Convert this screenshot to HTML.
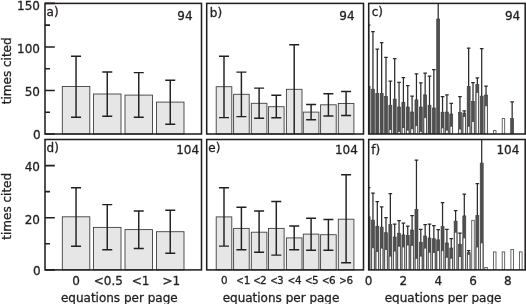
<!DOCTYPE html>
<html lang="en"><head><meta charset="utf-8"><title>equations per page vs times cited</title>
<style>html,body{margin:0;padding:0;background:#fff}svg{display:block;will-change:transform}</style></head>
<body>
<svg width="526" height="304" viewBox="0 0 526 304" font-family='"DejaVu Sans", "Liberation Sans", sans-serif' font-size="12" fill="#231f20">
<style>text{stroke:#231f20;stroke-width:0.3px}</style>
<rect width="526" height="304" fill="#fff"/>
<rect x="62.30" y="86.50" width="27.50" height="47.50" fill="#e6e6e6" stroke="#404040" stroke-width="0.9"/>
<rect x="93.50" y="94.00" width="27.50" height="40.00" fill="#e6e6e6" stroke="#404040" stroke-width="0.9"/>
<rect x="125.00" y="95.10" width="27.50" height="38.90" fill="#e6e6e6" stroke="#404040" stroke-width="0.9"/>
<rect x="156.50" y="102.10" width="27.50" height="31.90" fill="#e6e6e6" stroke="#404040" stroke-width="0.9"/>
<path d="M76.05 56.20V117.20M71.05 56.20h10M71.05 117.20h10" fill="none" stroke="#231f20" stroke-width="1.45"/>
<path d="M107.25 71.90V116.20M102.25 71.90h10M102.25 116.20h10" fill="none" stroke="#231f20" stroke-width="1.45"/>
<path d="M138.75 72.60V117.20M133.75 72.60h10M133.75 117.20h10" fill="none" stroke="#231f20" stroke-width="1.45"/>
<path d="M170.25 80.30V124.20M165.25 80.30h10M165.25 124.20h10" fill="none" stroke="#231f20" stroke-width="1.45"/>
<rect x="62.30" y="216.80" width="27.50" height="53.10" fill="#e6e6e6" stroke="#404040" stroke-width="0.9"/>
<rect x="93.50" y="227.40" width="27.50" height="42.50" fill="#e6e6e6" stroke="#404040" stroke-width="0.9"/>
<rect x="125.00" y="229.60" width="27.50" height="40.30" fill="#e6e6e6" stroke="#404040" stroke-width="0.9"/>
<rect x="156.50" y="231.70" width="27.50" height="38.20" fill="#e6e6e6" stroke="#404040" stroke-width="0.9"/>
<path d="M76.05 187.80V246.20M71.05 187.80h10M71.05 246.20h10" fill="none" stroke="#231f20" stroke-width="1.45"/>
<path d="M107.25 204.60V249.80M102.25 204.60h10M102.25 249.80h10" fill="none" stroke="#231f20" stroke-width="1.45"/>
<path d="M138.75 211.00V248.50M133.75 211.00h10M133.75 248.50h10" fill="none" stroke="#231f20" stroke-width="1.45"/>
<path d="M170.25 210.30V253.30M165.25 210.30h10M165.25 253.30h10" fill="none" stroke="#231f20" stroke-width="1.45"/>
<rect x="216.20" y="86.70" width="15.60" height="47.30" fill="#e6e6e6" stroke="#404040" stroke-width="0.9"/>
<rect x="233.60" y="94.30" width="15.60" height="39.70" fill="#e6e6e6" stroke="#404040" stroke-width="0.9"/>
<rect x="251.30" y="103.30" width="15.60" height="30.70" fill="#e6e6e6" stroke="#404040" stroke-width="0.9"/>
<rect x="268.50" y="106.70" width="15.60" height="27.30" fill="#e6e6e6" stroke="#404040" stroke-width="0.9"/>
<rect x="286.40" y="89.30" width="15.60" height="44.70" fill="#e6e6e6" stroke="#404040" stroke-width="0.9"/>
<rect x="303.30" y="112.10" width="15.60" height="21.90" fill="#e6e6e6" stroke="#404040" stroke-width="0.9"/>
<rect x="320.60" y="104.80" width="15.60" height="29.20" fill="#e6e6e6" stroke="#404040" stroke-width="0.9"/>
<rect x="338.30" y="103.50" width="15.60" height="30.50" fill="#e6e6e6" stroke="#404040" stroke-width="0.9"/>
<path d="M224.00 56.20V117.60M219.00 56.20h10M219.00 117.60h10" fill="none" stroke="#231f20" stroke-width="1.45"/>
<path d="M241.40 72.10V116.60M236.40 72.10h10M236.40 116.60h10" fill="none" stroke="#231f20" stroke-width="1.45"/>
<path d="M259.10 88.10V118.20M254.10 88.10h10M254.10 118.20h10" fill="none" stroke="#231f20" stroke-width="1.45"/>
<path d="M276.30 95.30V117.80M271.30 95.30h10M271.30 117.80h10" fill="none" stroke="#231f20" stroke-width="1.45"/>
<path d="M294.20 44.80V134.00M289.20 44.80h10" fill="none" stroke="#231f20" stroke-width="1.45"/>
<path d="M311.10 104.40V119.70M306.10 104.40h10M306.10 119.70h10" fill="none" stroke="#231f20" stroke-width="1.45"/>
<path d="M328.40 93.70V115.90M323.40 93.70h10M323.40 115.90h10" fill="none" stroke="#231f20" stroke-width="1.45"/>
<path d="M346.10 91.50V115.50M341.10 91.50h10M341.10 115.50h10" fill="none" stroke="#231f20" stroke-width="1.45"/>
<rect x="216.20" y="216.90" width="15.60" height="53.00" fill="#e6e6e6" stroke="#404040" stroke-width="0.9"/>
<rect x="233.60" y="228.40" width="15.60" height="41.50" fill="#e6e6e6" stroke="#404040" stroke-width="0.9"/>
<rect x="251.30" y="232.20" width="15.60" height="37.70" fill="#e6e6e6" stroke="#404040" stroke-width="0.9"/>
<rect x="268.50" y="228.40" width="15.60" height="41.50" fill="#e6e6e6" stroke="#404040" stroke-width="0.9"/>
<rect x="286.40" y="237.90" width="15.60" height="32.00" fill="#e6e6e6" stroke="#404040" stroke-width="0.9"/>
<rect x="303.30" y="234.10" width="15.60" height="35.80" fill="#e6e6e6" stroke="#404040" stroke-width="0.9"/>
<rect x="320.60" y="234.70" width="15.60" height="35.20" fill="#e6e6e6" stroke="#404040" stroke-width="0.9"/>
<rect x="338.30" y="219.20" width="15.60" height="50.70" fill="#e6e6e6" stroke="#404040" stroke-width="0.9"/>
<path d="M224.00 187.70V246.10M219.00 187.70h10M219.00 246.10h10" fill="none" stroke="#231f20" stroke-width="1.45"/>
<path d="M241.40 207.20V249.70M236.40 207.20h10M236.40 249.70h10" fill="none" stroke="#231f20" stroke-width="1.45"/>
<path d="M259.10 211.00V252.20M254.10 211.00h10M254.10 252.20h10" fill="none" stroke="#231f20" stroke-width="1.45"/>
<path d="M276.30 201.50V255.10M271.30 201.50h10M271.30 255.10h10" fill="none" stroke="#231f20" stroke-width="1.45"/>
<path d="M294.20 225.90V249.70M289.20 225.90h10M289.20 249.70h10" fill="none" stroke="#231f20" stroke-width="1.45"/>
<path d="M311.10 218.20V250.30M306.10 218.20h10M306.10 250.30h10" fill="none" stroke="#231f20" stroke-width="1.45"/>
<path d="M328.40 219.40V250.30M323.40 219.40h10M323.40 250.30h10" fill="none" stroke="#231f20" stroke-width="1.45"/>
<path d="M346.10 174.70V262.70M341.10 174.70h10M341.10 262.70h10" fill="none" stroke="#231f20" stroke-width="1.45"/>
<clipPath id="cc"><rect x="368.7" y="3.4" width="156.50" height="130.60"/></clipPath>
<g clip-path="url(#cc)">
<rect x="367.10" y="86.50" width="3.0" height="47.50" fill="#515050" stroke="#383838" stroke-width="0.6"/>
<path d="M368.60 86.50V25.00M366.80 25.20h3.6" fill="none" stroke="#2d2a2b" stroke-width="1.25"/>
<rect x="371.45" y="89.20" width="3.0" height="44.80" fill="#515050" stroke="#383838" stroke-width="0.6"/>
<path d="M372.95 89.20V31.40M371.15 31.60h3.6" fill="none" stroke="#2d2a2b" stroke-width="1.25"/>
<rect x="375.80" y="93.30" width="3.0" height="40.70" fill="#515050" stroke="#383838" stroke-width="0.6"/>
<path d="M377.30 93.30V48.90M375.50 49.10h3.6" fill="none" stroke="#2d2a2b" stroke-width="1.25"/>
<rect x="380.15" y="93.30" width="3.0" height="40.70" fill="#515050" stroke="#383838" stroke-width="0.6"/>
<path d="M381.65 93.30V42.40M379.85 42.60h3.6" fill="none" stroke="#2d2a2b" stroke-width="1.25"/>
<rect x="384.50" y="96.40" width="3.0" height="37.60" fill="#515050" stroke="#383838" stroke-width="0.6"/>
<path d="M386.00 96.40V57.20M384.20 57.40h3.6" fill="none" stroke="#2d2a2b" stroke-width="1.25"/>
<rect x="388.85" y="105.20" width="3.0" height="28.80" fill="#515050" stroke="#383838" stroke-width="0.6"/>
<path d="M390.35 105.20V80.90M388.55 81.10h3.6" fill="none" stroke="#2d2a2b" stroke-width="1.25"/>
<rect x="393.20" y="99.10" width="3.0" height="34.90" fill="#515050" stroke="#383838" stroke-width="0.6"/>
<path d="M394.70 99.10V58.40M392.90 58.60h3.6" fill="none" stroke="#2d2a2b" stroke-width="1.25"/>
<rect x="397.55" y="107.00" width="3.0" height="27.00" fill="#515050" stroke="#383838" stroke-width="0.6"/>
<path d="M399.05 107.00V82.20M397.25 82.40h3.6" fill="none" stroke="#2d2a2b" stroke-width="1.25"/>
<rect x="401.90" y="102.20" width="3.0" height="31.80" fill="#515050" stroke="#383838" stroke-width="0.6"/>
<path d="M403.40 102.20V77.40M401.60 77.60h3.6" fill="none" stroke="#2d2a2b" stroke-width="1.25"/>
<rect x="406.25" y="107.00" width="3.0" height="27.00" fill="#515050" stroke="#383838" stroke-width="0.6"/>
<path d="M407.75 107.00V85.30M405.95 85.50h3.6" fill="none" stroke="#2d2a2b" stroke-width="1.25"/>
<rect x="410.60" y="112.00" width="3.0" height="22.00" fill="#515050" stroke="#383838" stroke-width="0.6"/>
<path d="M412.10 112.00V96.00M410.30 96.20h3.6" fill="none" stroke="#2d2a2b" stroke-width="1.25"/>
<rect x="414.95" y="99.90" width="3.0" height="34.10" fill="#515050" stroke="#383838" stroke-width="0.6"/>
<path d="M416.45 99.90V73.60M414.65 73.80h3.6" fill="none" stroke="#2d2a2b" stroke-width="1.25"/>
<rect x="419.30" y="107.00" width="3.0" height="27.00" fill="#515050" stroke="#383838" stroke-width="0.6"/>
<path d="M420.80 107.00V82.70M419.00 82.90h3.6" fill="none" stroke="#2d2a2b" stroke-width="1.25"/>
<rect x="423.65" y="94.90" width="3.0" height="39.10" fill="#515050" stroke="#383838" stroke-width="0.6"/>
<path d="M425.15 94.90V72.80M423.35 73.00h3.6" fill="none" stroke="#2d2a2b" stroke-width="1.25"/>
<rect x="428.00" y="105.20" width="3.0" height="28.80" fill="#515050" stroke="#383838" stroke-width="0.6"/>
<path d="M429.50 105.20V75.90M427.70 76.10h3.6" fill="none" stroke="#2d2a2b" stroke-width="1.25"/>
<rect x="432.35" y="108.00" width="3.0" height="26.00" fill="#515050" stroke="#383838" stroke-width="0.6"/>
<path d="M433.85 108.00V69.30M432.05 69.50h3.6" fill="none" stroke="#2d2a2b" stroke-width="1.25"/>
<rect x="436.70" y="19.00" width="3.0" height="115.00" fill="#515050" stroke="#383838" stroke-width="0.6"/>
<path d="M438.20 19.00V0.00M436.40 0.20h3.6" fill="none" stroke="#2d2a2b" stroke-width="1.25"/>
<rect x="441.05" y="112.20" width="3.0" height="21.80" fill="#515050" stroke="#383838" stroke-width="0.6"/>
<path d="M442.55 112.20V96.30M440.75 96.50h3.6" fill="none" stroke="#2d2a2b" stroke-width="1.25"/>
<rect x="445.40" y="112.00" width="3.0" height="22.00" fill="#515050" stroke="#383838" stroke-width="0.6"/>
<path d="M446.90 112.00V94.70M445.10 94.90h3.6" fill="none" stroke="#2d2a2b" stroke-width="1.25"/>
<rect x="449.75" y="114.00" width="3.0" height="20.00" fill="#515050" stroke="#383838" stroke-width="0.6"/>
<path d="M451.25 114.00V103.20M449.45 103.40h3.6" fill="none" stroke="#2d2a2b" stroke-width="1.25"/>
<rect x="458.45" y="112.40" width="3.0" height="21.60" fill="#515050" stroke="#383838" stroke-width="0.6"/>
<path d="M459.95 112.40V96.30M458.15 96.50h3.6" fill="none" stroke="#2d2a2b" stroke-width="1.25"/>
<rect x="462.80" y="113.00" width="3.0" height="21.00" fill="#515050" stroke="#383838" stroke-width="0.6"/>
<path d="M464.30 113.00V110.60M462.50 110.80h3.6" fill="none" stroke="#2d2a2b" stroke-width="1.25"/>
<rect x="467.15" y="86.40" width="3.0" height="47.60" fill="#515050" stroke="#383838" stroke-width="0.6"/>
<path d="M468.65 86.40V47.80M466.85 48.00h3.6" fill="none" stroke="#2d2a2b" stroke-width="1.25"/>
<rect x="471.50" y="101.40" width="3.0" height="32.60" fill="#515050" stroke="#383838" stroke-width="0.6"/>
<path d="M473.00 101.40V82.30M471.20 82.50h3.6" fill="none" stroke="#2d2a2b" stroke-width="1.25"/>
<rect x="475.85" y="84.50" width="3.0" height="49.50" fill="#515050" stroke="#383838" stroke-width="0.6"/>
<path d="M477.35 84.50V77.60M475.55 77.80h3.6" fill="none" stroke="#2d2a2b" stroke-width="1.25"/>
<rect x="480.20" y="96.10" width="3.0" height="37.90" fill="#515050" stroke="#383838" stroke-width="0.6"/>
<path d="M481.70 96.10V48.40M479.90 48.60h3.6" fill="none" stroke="#2d2a2b" stroke-width="1.25"/>
<rect x="484.55" y="95.00" width="3.0" height="39.00" fill="#515050" stroke="#383838" stroke-width="0.6"/>
<path d="M486.05 95.00V86.00M484.25 86.20h3.6" fill="none" stroke="#2d2a2b" stroke-width="1.25"/>
<rect x="510.65" y="118.60" width="3.0" height="15.40" fill="#515050" stroke="#383838" stroke-width="0.6"/>
<path d="M512.15 118.60V101.60M510.35 101.80h3.6" fill="none" stroke="#2d2a2b" stroke-width="1.25"/>
<rect x="389.10" y="129.60" width="2.5" height="4.40" fill="#fff" stroke="#454545" stroke-width="0.8"/>
<rect x="397.80" y="131.50" width="2.5" height="2.50" fill="#fff" stroke="#454545" stroke-width="0.8"/>
<rect x="402.15" y="127.50" width="2.5" height="6.50" fill="#fff" stroke="#454545" stroke-width="0.8"/>
<rect x="406.50" y="130.10" width="2.5" height="3.90" fill="#fff" stroke="#454545" stroke-width="0.8"/>
<rect x="410.85" y="128.80" width="2.5" height="5.20" fill="#fff" stroke="#454545" stroke-width="0.8"/>
<rect x="415.20" y="125.70" width="2.5" height="8.30" fill="#fff" stroke="#454545" stroke-width="0.8"/>
<rect x="419.55" y="131.30" width="2.5" height="2.70" fill="#fff" stroke="#454545" stroke-width="0.8"/>
<rect x="423.90" y="117.70" width="2.5" height="16.30" fill="#fff" stroke="#454545" stroke-width="0.8"/>
<rect x="441.30" y="127.90" width="2.5" height="6.10" fill="#fff" stroke="#454545" stroke-width="0.8"/>
<rect x="445.65" y="130.10" width="2.5" height="3.90" fill="#fff" stroke="#454545" stroke-width="0.8"/>
<rect x="450.00" y="126.20" width="2.5" height="7.80" fill="#fff" stroke="#454545" stroke-width="0.8"/>
<rect x="458.70" y="129.00" width="2.5" height="5.00" fill="#fff" stroke="#454545" stroke-width="0.8"/>
<rect x="463.05" y="116.50" width="2.5" height="17.50" fill="#fff" stroke="#454545" stroke-width="0.8"/>
<rect x="467.40" y="126.20" width="2.5" height="7.80" fill="#fff" stroke="#454545" stroke-width="0.8"/>
<rect x="471.75" y="121.60" width="2.5" height="12.40" fill="#fff" stroke="#454545" stroke-width="0.8"/>
<rect x="476.10" y="92.50" width="2.5" height="41.50" fill="#fff" stroke="#454545" stroke-width="0.8"/>
<rect x="484.80" y="105.80" width="2.5" height="28.20" fill="#fff" stroke="#454545" stroke-width="0.8"/>
<rect x="493.50" y="130.60" width="2.5" height="3.40" fill="#fff" stroke="#454545" stroke-width="0.8"/>
<rect x="502.20" y="118.60" width="2.5" height="15.40" fill="#fff" stroke="#454545" stroke-width="0.8"/>
</g>
<clipPath id="cf"><rect x="368.7" y="139.5" width="156.50" height="130.40"/></clipPath>
<g clip-path="url(#cf)">
<rect x="367.10" y="216.80" width="3.0" height="53.10" fill="#515050" stroke="#383838" stroke-width="0.6"/>
<path d="M368.60 216.80V187.40M366.80 187.60h3.6" fill="none" stroke="#2d2a2b" stroke-width="1.25"/>
<rect x="371.45" y="220.10" width="3.0" height="49.80" fill="#515050" stroke="#383838" stroke-width="0.6"/>
<path d="M372.95 220.10V193.00M371.15 193.20h3.6" fill="none" stroke="#2d2a2b" stroke-width="1.25"/>
<rect x="375.80" y="226.20" width="3.0" height="43.70" fill="#515050" stroke="#383838" stroke-width="0.6"/>
<path d="M377.30 226.20V201.50M375.50 201.70h3.6" fill="none" stroke="#2d2a2b" stroke-width="1.25"/>
<rect x="380.15" y="227.10" width="3.0" height="42.80" fill="#515050" stroke="#383838" stroke-width="0.6"/>
<path d="M381.65 227.10V206.60M379.85 206.80h3.6" fill="none" stroke="#2d2a2b" stroke-width="1.25"/>
<rect x="384.50" y="232.70" width="3.0" height="37.20" fill="#515050" stroke="#383838" stroke-width="0.6"/>
<path d="M386.00 232.70V217.30M384.20 217.50h3.6" fill="none" stroke="#2d2a2b" stroke-width="1.25"/>
<rect x="388.85" y="224.30" width="3.0" height="45.60" fill="#515050" stroke="#383838" stroke-width="0.6"/>
<path d="M390.35 224.30V193.50M388.55 193.70h3.6" fill="none" stroke="#2d2a2b" stroke-width="1.25"/>
<rect x="393.20" y="237.00" width="3.0" height="32.90" fill="#515050" stroke="#383838" stroke-width="0.6"/>
<path d="M394.70 237.00V224.00M392.90 224.20h3.6" fill="none" stroke="#2d2a2b" stroke-width="1.25"/>
<rect x="397.55" y="233.20" width="3.0" height="36.70" fill="#515050" stroke="#383838" stroke-width="0.6"/>
<path d="M399.05 233.20V220.50M397.25 220.70h3.6" fill="none" stroke="#2d2a2b" stroke-width="1.25"/>
<rect x="401.90" y="234.90" width="3.0" height="35.00" fill="#515050" stroke="#383838" stroke-width="0.6"/>
<path d="M403.40 234.90V222.80M401.60 223.00h3.6" fill="none" stroke="#2d2a2b" stroke-width="1.25"/>
<rect x="406.25" y="235.30" width="3.0" height="34.60" fill="#515050" stroke="#383838" stroke-width="0.6"/>
<path d="M407.75 235.30V225.90M405.95 226.10h3.6" fill="none" stroke="#2d2a2b" stroke-width="1.25"/>
<rect x="410.60" y="230.00" width="3.0" height="39.90" fill="#515050" stroke="#383838" stroke-width="0.6"/>
<path d="M412.10 230.00V215.50M410.30 215.70h3.6" fill="none" stroke="#2d2a2b" stroke-width="1.25"/>
<rect x="414.95" y="209.30" width="3.0" height="60.60" fill="#515050" stroke="#383838" stroke-width="0.6"/>
<path d="M416.45 209.30V160.00M414.65 160.20h3.6" fill="none" stroke="#2d2a2b" stroke-width="1.25"/>
<rect x="419.30" y="242.20" width="3.0" height="27.70" fill="#515050" stroke="#383838" stroke-width="0.6"/>
<path d="M420.80 242.20V229.20M419.00 229.40h3.6" fill="none" stroke="#2d2a2b" stroke-width="1.25"/>
<rect x="423.65" y="236.00" width="3.0" height="33.90" fill="#515050" stroke="#383838" stroke-width="0.6"/>
<path d="M425.15 236.00V224.30M423.35 224.50h3.6" fill="none" stroke="#2d2a2b" stroke-width="1.25"/>
<rect x="428.00" y="238.00" width="3.0" height="31.90" fill="#515050" stroke="#383838" stroke-width="0.6"/>
<path d="M429.50 238.00V224.00M427.70 224.20h3.6" fill="none" stroke="#2d2a2b" stroke-width="1.25"/>
<rect x="432.35" y="238.70" width="3.0" height="31.20" fill="#515050" stroke="#383838" stroke-width="0.6"/>
<path d="M433.85 238.70V225.40M432.05 225.60h3.6" fill="none" stroke="#2d2a2b" stroke-width="1.25"/>
<rect x="436.70" y="239.80" width="3.0" height="30.10" fill="#515050" stroke="#383838" stroke-width="0.6"/>
<path d="M438.20 239.80V229.40M436.40 229.60h3.6" fill="none" stroke="#2d2a2b" stroke-width="1.25"/>
<rect x="441.05" y="226.60" width="3.0" height="43.30" fill="#515050" stroke="#383838" stroke-width="0.6"/>
<path d="M442.55 226.60V202.30M440.75 202.50h3.6" fill="none" stroke="#2d2a2b" stroke-width="1.25"/>
<rect x="445.40" y="243.00" width="3.0" height="26.90" fill="#515050" stroke="#383838" stroke-width="0.6"/>
<path d="M446.90 243.00V229.10M445.10 229.30h3.6" fill="none" stroke="#2d2a2b" stroke-width="1.25"/>
<rect x="449.75" y="248.00" width="3.0" height="21.90" fill="#515050" stroke="#383838" stroke-width="0.6"/>
<path d="M451.25 248.00V238.40M449.45 238.60h3.6" fill="none" stroke="#2d2a2b" stroke-width="1.25"/>
<rect x="454.10" y="221.10" width="3.0" height="48.80" fill="#515050" stroke="#383838" stroke-width="0.6"/>
<path d="M455.60 221.10V210.40M453.80 210.60h3.6" fill="none" stroke="#2d2a2b" stroke-width="1.25"/>
<rect x="458.45" y="244.20" width="3.0" height="25.70" fill="#515050" stroke="#383838" stroke-width="0.6"/>
<path d="M459.95 244.20V233.00M458.15 233.20h3.6" fill="none" stroke="#2d2a2b" stroke-width="1.25"/>
<rect x="462.80" y="215.90" width="3.0" height="54.00" fill="#515050" stroke="#383838" stroke-width="0.6"/>
<path d="M464.30 215.90V194.00M462.50 194.20h3.6" fill="none" stroke="#2d2a2b" stroke-width="1.25"/>
<rect x="467.15" y="252.40" width="3.0" height="17.50" fill="#515050" stroke="#383838" stroke-width="0.6"/>
<path d="M468.65 252.40V250.30M466.85 250.50h3.6" fill="none" stroke="#2d2a2b" stroke-width="1.25"/>
<rect x="475.85" y="215.40" width="3.0" height="54.50" fill="#515050" stroke="#383838" stroke-width="0.6"/>
<path d="M477.35 215.40V183.50M475.55 183.70h3.6" fill="none" stroke="#2d2a2b" stroke-width="1.25"/>
<rect x="480.20" y="163.10" width="3.0" height="106.80" fill="#515050" stroke="#383838" stroke-width="0.6"/>
<path d="M481.70 163.10V130.00M479.90 130.20h3.6" fill="none" stroke="#2d2a2b" stroke-width="1.25"/>
<rect x="371.70" y="247.80" width="2.5" height="22.10" fill="#fff" stroke="#454545" stroke-width="0.8"/>
<rect x="376.05" y="251.40" width="2.5" height="18.50" fill="#fff" stroke="#454545" stroke-width="0.8"/>
<rect x="380.40" y="248.10" width="2.5" height="21.80" fill="#fff" stroke="#454545" stroke-width="0.8"/>
<rect x="384.75" y="249.60" width="2.5" height="20.30" fill="#fff" stroke="#454545" stroke-width="0.8"/>
<rect x="389.10" y="256.10" width="2.5" height="13.80" fill="#fff" stroke="#454545" stroke-width="0.8"/>
<rect x="393.45" y="251.10" width="2.5" height="18.80" fill="#fff" stroke="#454545" stroke-width="0.8"/>
<rect x="397.80" y="246.20" width="2.5" height="23.70" fill="#fff" stroke="#454545" stroke-width="0.8"/>
<rect x="402.15" y="246.90" width="2.5" height="23.00" fill="#fff" stroke="#454545" stroke-width="0.8"/>
<rect x="406.50" y="245.00" width="2.5" height="24.90" fill="#fff" stroke="#454545" stroke-width="0.8"/>
<rect x="410.85" y="245.30" width="2.5" height="24.60" fill="#fff" stroke="#454545" stroke-width="0.8"/>
<rect x="415.20" y="258.30" width="2.5" height="11.60" fill="#fff" stroke="#454545" stroke-width="0.8"/>
<rect x="419.55" y="256.10" width="2.5" height="13.80" fill="#fff" stroke="#454545" stroke-width="0.8"/>
<rect x="423.90" y="248.10" width="2.5" height="21.80" fill="#fff" stroke="#454545" stroke-width="0.8"/>
<rect x="428.25" y="252.20" width="2.5" height="17.70" fill="#fff" stroke="#454545" stroke-width="0.8"/>
<rect x="432.60" y="252.60" width="2.5" height="17.30" fill="#fff" stroke="#454545" stroke-width="0.8"/>
<rect x="436.95" y="250.70" width="2.5" height="19.20" fill="#fff" stroke="#454545" stroke-width="0.8"/>
<rect x="441.30" y="250.70" width="2.5" height="19.20" fill="#fff" stroke="#454545" stroke-width="0.8"/>
<rect x="445.65" y="257.20" width="2.5" height="12.70" fill="#fff" stroke="#454545" stroke-width="0.8"/>
<rect x="450.00" y="258.20" width="2.5" height="11.70" fill="#fff" stroke="#454545" stroke-width="0.8"/>
<rect x="454.35" y="232.20" width="2.5" height="37.70" fill="#fff" stroke="#454545" stroke-width="0.8"/>
<rect x="458.70" y="256.50" width="2.5" height="13.40" fill="#fff" stroke="#454545" stroke-width="0.8"/>
<rect x="463.05" y="237.90" width="2.5" height="32.00" fill="#fff" stroke="#454545" stroke-width="0.8"/>
<rect x="467.40" y="254.30" width="2.5" height="15.60" fill="#fff" stroke="#454545" stroke-width="0.8"/>
<rect x="471.75" y="220.30" width="2.5" height="49.60" fill="#fff" stroke="#454545" stroke-width="0.8"/>
<rect x="476.10" y="247.00" width="2.5" height="22.90" fill="#fff" stroke="#454545" stroke-width="0.8"/>
<rect x="480.45" y="242.90" width="2.5" height="27.00" fill="#fff" stroke="#454545" stroke-width="0.8"/>
<rect x="484.80" y="267.50" width="2.5" height="2.40" fill="#fff" stroke="#454545" stroke-width="0.8"/>
<rect x="493.50" y="251.90" width="2.5" height="18.00" fill="#fff" stroke="#454545" stroke-width="0.8"/>
<rect x="502.20" y="251.90" width="2.5" height="18.00" fill="#fff" stroke="#454545" stroke-width="0.8"/>
<rect x="510.90" y="249.40" width="2.5" height="20.50" fill="#fff" stroke="#454545" stroke-width="0.8"/>
<rect x="519.60" y="251.90" width="2.5" height="18.00" fill="#fff" stroke="#454545" stroke-width="0.8"/>
</g>
<path d="M45.0 134.00h9.8M45.0 90.47h9.8M45.0 46.93h9.8M45.0 3.40h9.8M45.0 112.23h5M45.0 68.70h5M45.0 25.17h5" fill="none" stroke="#231f20" stroke-width="1.6"/>
<path d="M45.0 269.90h9.8M45.0 217.74h9.8M45.0 165.58h9.8M45.0 243.82h5M45.0 191.66h5" fill="none" stroke="#231f20" stroke-width="1.6"/>
<rect x="45.0" y="3.4" width="156.50" height="130.60" fill="none" stroke="#231f20" stroke-width="1.55"/>
<rect x="45.0" y="139.5" width="156.50" height="130.40" fill="none" stroke="#231f20" stroke-width="1.55"/>
<rect x="206.7" y="3.4" width="156.80" height="130.60" fill="none" stroke="#231f20" stroke-width="1.55"/>
<rect x="206.7" y="139.5" width="156.80" height="130.40" fill="none" stroke="#231f20" stroke-width="1.55"/>
<rect x="368.7" y="3.4" width="156.50" height="130.60" fill="none" stroke="#231f20" stroke-width="1.55"/>
<rect x="368.7" y="139.5" width="156.50" height="130.40" fill="none" stroke="#231f20" stroke-width="1.55"/>
<text x="40.7" y="139.4" text-anchor="end" >0</text>
<text x="40.0" y="96.3" text-anchor="end" >50</text>
<text x="40.0" y="52.7" text-anchor="end" >100</text>
<text x="40.0" y="9.6" text-anchor="end" >150</text>
<text x="40.7" y="275.3" text-anchor="end" >0</text>
<text x="40.0" y="223.5" text-anchor="end" >20</text>
<text x="40.0" y="171.4" text-anchor="end" >40</text>
<text transform="translate(10.6 70.8) rotate(-90)" text-anchor="middle">times cited</text>
<text transform="translate(10.6 206.3) rotate(-90)" text-anchor="middle">times cited</text>
<text x="46.6" y="16.3" text-anchor="start" >a)</text>
<text x="209.8" y="16.6" text-anchor="start" >b)</text>
<text x="371.7" y="16.4" text-anchor="start" >c)</text>
<text x="46.6" y="152.1" text-anchor="start" >d)</text>
<text x="208.3" y="152.1" text-anchor="start" >e)</text>
<text x="371.2" y="153.5" text-anchor="start" >f)</text>
<text x="192.6" y="19.7" text-anchor="end" >94</text>
<text x="354.6" y="19.7" text-anchor="end" >94</text>
<text x="520.2" y="19.7" text-anchor="end" >94</text>
<text x="199.1" y="154.3" text-anchor="end" >104</text>
<text x="357.8" y="154.3" text-anchor="end" >104</text>
<text x="519.3" y="154.3" text-anchor="end" >104</text>
<text x="76" y="285.2" text-anchor="middle" >0</text>
<text x="108.3" y="285.2" text-anchor="middle" >&lt;0.5</text>
<text x="140.6" y="285.2" text-anchor="middle" >&lt;1</text>
<text x="171.4" y="285.2" text-anchor="middle" >&gt;1</text>
<text x="224.2" y="283.5" text-anchor="middle" font-size="10.4">0</text>
<text y="283.5" font-size="10.4"><tspan x="236.25" textLength="7.49" lengthAdjust="spacingAndGlyphs">&lt;</tspan><tspan x="250.3" text-anchor="end">1</tspan></text>
<text y="283.5" font-size="10.4"><tspan x="253.25" textLength="7.49" lengthAdjust="spacingAndGlyphs">&lt;</tspan><tspan x="266.6" text-anchor="end">2</tspan></text>
<text y="283.5" font-size="10.4"><tspan x="270.35" textLength="7.49" lengthAdjust="spacingAndGlyphs">&lt;</tspan><tspan x="283.7" text-anchor="end">3</tspan></text>
<text y="283.5" font-size="10.4"><tspan x="287.65" textLength="7.49" lengthAdjust="spacingAndGlyphs">&lt;</tspan><tspan x="301.6" text-anchor="end">4</tspan></text>
<text y="283.5" font-size="10.4"><tspan x="304.95" textLength="7.49" lengthAdjust="spacingAndGlyphs">&lt;</tspan><tspan x="318.5" text-anchor="end">5</tspan></text>
<text y="283.5" font-size="10.4"><tspan x="321.95" textLength="7.49" lengthAdjust="spacingAndGlyphs">&lt;</tspan><tspan x="335.6" text-anchor="end">6</tspan></text>
<text y="283.5" font-size="10.4"><tspan x="339.35" textLength="7.49" lengthAdjust="spacingAndGlyphs">&gt;</tspan><tspan x="353.2" text-anchor="end">6</tspan></text>
<text x="368.6" y="285.2" text-anchor="middle" >0</text>
<text x="403.4" y="285.2" text-anchor="middle" >2</text>
<text x="438.2" y="285.2" text-anchor="middle" >4</text>
<text x="473.0" y="285.2" text-anchor="middle" >6</text>
<text x="507.8" y="285.2" text-anchor="middle" >8</text>
<text x="119.3" y="302.0" text-anchor="middle" >equations per page</text>
<text x="281" y="302.0" text-anchor="middle" >equations per page</text>
<text x="443.1" y="302.0" text-anchor="middle" >equations per page</text>
</svg>
</body></html>
